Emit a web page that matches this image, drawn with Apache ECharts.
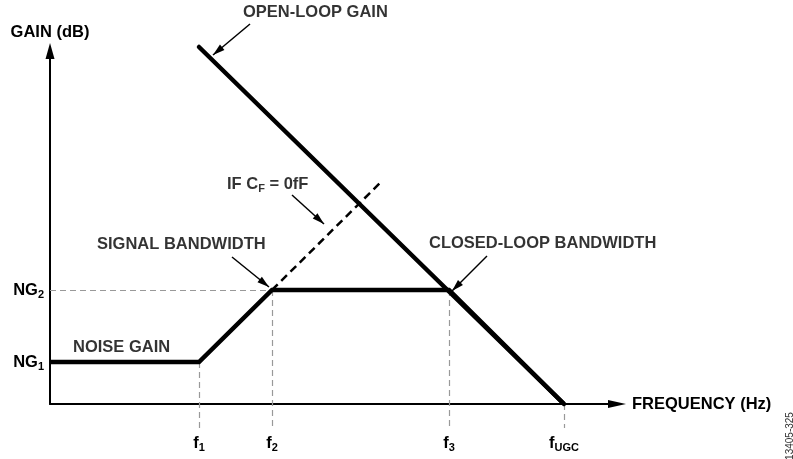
<!DOCTYPE html>
<html>
<head>
<meta charset="utf-8">
<script src="https://cdn.jsdelivr.net/npm/echarts@6/dist/echarts.min.js"></script>
<style>
  html, body { margin: 0; padding: 0; background: #fff; }
  #main { width: 793px; height: 459px; }
</style>
</head>
<body>
<div id="main"></div>
<script>
// 示意图坐标：x、y 都是无量纲的“示意单位”
// 频率刻度 f1 f2 f3 fUGC
const freqTicks = [149, 222, 399, 514]
const freqSubs = ['1', '2', '3', 'UGC']

// 增益刻度 NG1 NG2
const gainTicks = [42, 114]
const gainSubs = ['1', '2']

// 噪声增益曲线
const noiseX = [0, 149, 222, 399, 514]
const noiseY = [42, 42, 114, 114, 0]

// 开环增益
const openX = [149, 514]
const openY = [357, 0]

// CF = 0 时的延长线
const noCfX = [222, 330]
const noCfY = [114, 221]

// 各频率点对应的曲线高度（虚线引导线的起点）
const guideLevel = [42, 114, 114, 0]

const FONT = '"Liberation Sans", Arial, Helvetica, sans-serif'

const chart = echarts.init(document.querySelector('#main'))

// 下标样式
const rich = {
  m: { fontSize: 16.5, fontWeight: 'bold', fontFamily: FONT, color: '#000', lineHeight: 16, verticalAlign: 'top' },
  s: { fontSize: 11, fontWeight: 'bold', fontFamily: FONT, color: '#000', lineHeight: 11, padding: [9, 0, 0, 0] }
}

// 曲线数据
const noiseData = noiseX.map((x, i) => [x, noiseY[i]])
const openData = openX.map((x, i) => [x, openY[i]])
const noCfData = noCfX.map((x, i) => [x, noCfY[i]])

// 灰色虚线引导线
const guides = freqTicks.map((f, i) => ({ coords: [[f, guideLevel[i]], [f, -24]] }))
guides.push({ coords: [[0, gainTicks[1]], [freqTicks[1], gainTicks[1]]] })

// 注释文字
const notes = [
  { text: '{m|OPEN-LOOP GAIN}', at: [193, 392] },
  { text: '{m|IF C}{s|F}{m| = 0fF}', at: [177, 220] },
  { text: '{m|SIGNAL BANDWIDTH}', at: [47, 160] },
  { text: '{m|CLOSED-LOOP BANDWIDTH}', at: [379, 161] },
  { text: '{m|NOISE GAIN}', at: [23, 57] }
]

// 注释箭头（起点 -> 箭头尖）
const arrows = [
  [[200, 380], [163, 349]],
  [[242, 209], [274, 180]],
  [[182, 147], [219, 117]],
  [[437, 148], [402, 113]]
]

// 箭头：三角形朝向线段方向，尖端落在终点
const HEAD = 12
const heads = arrows.map(([a, b]) => {
  const dx = b[0] - a[0]
  const dy = b[1] - a[1]
  const len = Math.hypot(dx, dy)
  return {
    value: [b[0] - dx / len * HEAD / 2, b[1] - dy / len * HEAD / 2],
    symbolRotate: Math.atan2(-dx, dy) * 180 / Math.PI
  }
})

const option = {
  animation: false,
  textStyle: { fontFamily: FONT },
  grid: { left: 50, right: 176, top: 51, bottom: 55, outerBoundsMode: 'none' },
  xAxis: {
    type: 'value',
    min: 0,
    max: 567,
    splitLine: { show: false },
    axisTick: { show: false },
    axisLine: {
      lineStyle: { color: '#000', width: 2 },
      symbol: ['none', 'triangle'],
      symbolSize: [8, 18]
    },
    axisLabel: {
      customValues: freqTicks,
      margin: 31,
      formatter: v => '{m|f}{s|' + freqSubs[freqTicks.indexOf(v)] + '}',
      rich
    },
    name: 'FREQUENCY (Hz)',
    nameLocation: 'end',
    nameGap: 15,
    nameTextStyle: { fontSize: 16.5, fontWeight: 'bold', color: '#000', fontFamily: FONT }
  },
  yAxis: {
    type: 'value',
    min: 0,
    max: 353,
    splitLine: { show: false },
    axisTick: { show: false },
    axisLine: {
      lineStyle: { color: '#000', width: 2 },
      symbol: ['none', 'triangle'],
      symbolSize: [9, 16]
    },
    axisLabel: {
      customValues: gainTicks,
      margin: 6,
      formatter: v => '{m|NG}{s|' + gainSubs[gainTicks.indexOf(v)] + '}',
      rich
    },
    name: 'GAIN (dB)',
    nameLocation: 'end',
    nameGap: 10,
    nameTextStyle: { fontSize: 16.5, fontWeight: 'bold', color: '#000', fontFamily: FONT }
  },
  graphic: [{
    type: 'text',
    x: 790,
    y: 436,
    rotation: Math.PI / 2,
    style: {
      text: '13405-325',
      fontSize: 10,
      fontFamily: FONT,
      fill: '#333',
      align: 'center',
      verticalAlign: 'middle',
      textAlign: 'center',
      textVerticalAlign: 'middle'
    }
  }],
  series: [
    {
      // 灰色虚线
      type: 'lines',
      coordinateSystem: 'cartesian2d',
      clip: false,
      silent: true,
      z: 1,
      lineStyle: { color: '#999', width: 1.2, type: [6, 4], opacity: 1 },
      data: guides
    },
    {
      // 噪声增益
      type: 'line',
      clip: false,
      symbol: 'none',
      z: 3,
      lineStyle: { color: '#000', width: 4.5, join: 'miter' },
      data: noiseData
    },
    {
      // 开环增益
      type: 'line',
      clip: false,
      symbol: 'none',
      z: 3,
      lineStyle: { color: '#000', width: 4.5, cap: 'round' },
      data: openData
    },
    {
      // CF = 0fF 延长线
      type: 'line',
      clip: false,
      symbol: 'none',
      z: 2,
      lineStyle: { color: '#000', width: 2.5, type: [8, 5] },
      data: noCfData
    },
    {
      // 注释箭头的线
      type: 'lines',
      coordinateSystem: 'cartesian2d',
      clip: false,
      silent: true,
      z: 4,
      lineStyle: { color: '#000', width: 1.5, opacity: 1 },
      data: arrows.map(c => ({ coords: c }))
    },
    {
      // 注释箭头的头
      type: 'scatter',
      clip: false,
      silent: true,
      z: 4,
      symbol: 'triangle',
      symbolSize: [7, HEAD],
      itemStyle: { color: '#000', opacity: 1 },
      data: heads
    },
    {
      // 注释文字
      type: 'scatter',
      clip: false,
      silent: true,
      symbolSize: 0,
      z: 5,
      data: notes.map(n => ({
        value: n.at,
        label: { show: true, position: 'right', distance: 0, color: '#000', formatter: n.text, rich }
      }))
    }
  ]
}

chart.setOption(option)
</script>
</body>
</html>
